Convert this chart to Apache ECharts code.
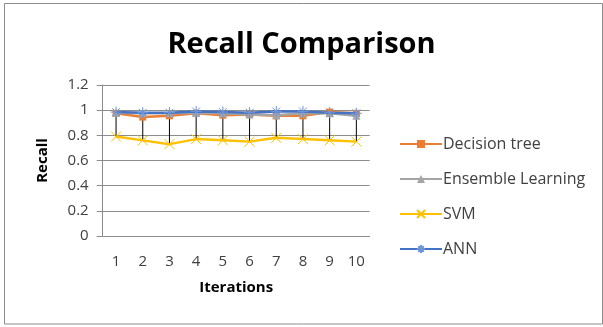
<!DOCTYPE html>
<html>
<head>
<meta charset="utf-8">
<script src="https://cdn.jsdelivr.net/npm/echarts@6/dist/echarts.min.js"></script>
<style>html,body{margin:0;padding:0;background:#fff}#c{width:603px;height:327px}</style>
</head>
<body>
<div id="c"></div>
<script>
const categories = ['1','2','3','4','5','6','7','8','9','10'];
const decisionTree = [0.975, 0.945, 0.955, 0.975, 0.96, 0.965, 0.955, 0.955, 0.985, 0.975];
const ensemble = [0.98, 0.975, 0.975, 0.98, 0.975, 0.965, 0.96, 0.975, 0.975, 0.955];
const svm = [0.79, 0.76, 0.73, 0.77, 0.76, 0.75, 0.78, 0.77, 0.76, 0.75];
const ann = [0.985, 0.98, 0.98, 0.99, 0.985, 0.98, 0.99, 0.99, 0.98, 0.975];
const yTicks = { min: 0, max: 1.2, interval: 0.2 };

const FONT = 'Open Sans';
const hiLo = categories.map((c, i) => {
  const vals = [decisionTree[i], ensemble[i], svm[i], ann[i]];
  return [i, Math.min.apply(null, vals), Math.max.apply(null, vals)];
});

const chart = echarts.init(document.getElementById('c'), null, { renderer: 'canvas' });
chart.setOption({
  backgroundColor: '#fff',
  animation: false,
  textStyle: { fontFamily: FONT },
  graphic: [{
    type: 'rect', silent: true, z: -10,
    shape: { x: 4.5, y: 3.5, width: 598, height: 320.5 },
    style: { fill: 'none', stroke: '#8c8c8c', lineWidth: 1 }
  }],
  title: {
    text: 'Recall Comparison', left: 'center', top: 25,
    textStyle: { fontFamily: FONT, fontSize: 29, fontWeight: 'bold', color: '#000' }
  },
  legend: {
    orient: 'vertical', left: 394, top: 131, itemGap: 19, itemWidth: 42, itemHeight: 10,
    textStyle: { fontFamily: FONT, fontSize: 16, color: '#404040', padding: [0, 0, 0, -4] },
    data: ['Decision tree', 'Ensemble Learning', 'SVM', 'ANN']
  },
  grid: { left: 102.7, right: 233.3, top: 85, bottom: 91 },
  xAxis: {
    type: 'category', data: categories, boundaryGap: true,
    axisLine: { lineStyle: { color: '#8c8c8c', width: 1 } },
    axisTick: { show: false },
    axisLabel: { fontFamily: FONT, fontSize: 15, color: '#404040', margin: 18 },
    name: 'Iterations', nameLocation: 'middle', nameGap: 44,
    nameTextStyle: { fontFamily: FONT, fontSize: 15, fontWeight: 'bold', color: '#000' }
  },
  yAxis: {
    type: 'value', min: yTicks.min, max: yTicks.max, interval: yTicks.interval,
    axisLine: { show: true, lineStyle: { color: '#8c8c8c', width: 1 } },
    axisTick: { show: true, length: 6, lineStyle: { color: '#8c8c8c' } },
    splitLine: { lineStyle: { color: '#8c8c8c', width: 1 } },
    axisLabel: { fontFamily: FONT, fontSize: 15, color: '#404040', margin: 14 },
    name: 'Recall', nameLocation: 'middle', nameGap: 52,
    nameTextStyle: { fontFamily: FONT, fontSize: 15, fontWeight: 'bold', color: '#000' }
  },
  series: [
    {
      type: 'custom', name: 'hilo', z: 1, silent: true,
      data: hiLo,
      renderItem: function (params, api) {
        const p1 = api.coord([api.value(0), api.value(1)]);
        const p2 = api.coord([api.value(0), api.value(2)]);
        return { type: 'line', shape: { x1: p1[0], y1: p1[1], x2: p2[0], y2: p2[1] },
          style: { stroke: '#000', lineWidth: 1 } };
      }
    },
    {
      name: 'Decision tree', type: 'line', data: decisionTree, z: 2,
      symbol: 'rect', symbolSize: 7,
      lineStyle: { color: '#ED7D31', width: 2.5 },
      itemStyle: { color: '#ED7D31' }
    },
    {
      name: 'Ensemble Learning', type: 'line', data: ensemble, z: 3,
      symbol: 'triangle', symbolSize: 8,
      lineStyle: { color: '#A5A5A5', width: 2.5 },
      itemStyle: { color: '#A5A5A5' }
    },
    {
      name: 'SVM', type: 'line', data: svm, z: 4,
      symbol: 'path://M0,0L10,10M10,0L0,10', symbolSize: 10,
      lineStyle: { color: '#FFC000', width: 2.5 },
      itemStyle: { color: 'rgba(0,0,0,0)', borderColor: '#FFC000', borderWidth: 1 }
    },
    {
      name: 'ANN', type: 'line', data: ann, z: 5,
      symbol: 'path://M5,0L5,10M0,5L10,5M1.5,1.5L8.5,8.5M8.5,1.5L1.5,8.5', symbolSize: 11,
      lineStyle: { color: '#4472C4', width: 2.5 },
      itemStyle: { color: 'rgba(0,0,0,0)', borderColor: '#6E95D8', borderWidth: 1 }
    }
  ]
});
</script>
</body>
</html>
